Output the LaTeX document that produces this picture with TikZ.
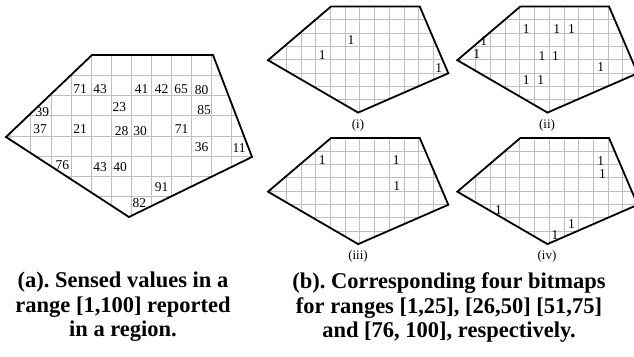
\documentclass[tikz,border=0pt]{standalone}
\usepackage{fontspec}
\setmainfont{Liberation Serif}
\tikzset{
  border/.style={line width=1.8pt, line join=miter},
  cell/.style={gray!50, line width=0.6pt},
  val/.style={font=\fontsize{13.5}{13.5}\selectfont, inner sep=0pt},
  bit/.style={font=\fontsize{13.5}{13.5}\selectfont, inner sep=0pt},
  tag/.style={font=\fontsize{13}{13}\selectfont, inner sep=0pt},
  caption/.style={font=\fontsize{22.5}{24.5}\selectfont\bfseries\frenchspacing, align=center, inner sep=0pt}
}
% outline of the region, in pixels of panel (a)
\newcommand{\regionpath}{(6,137) -- (92,55) -- (213,55) -- (252,157) -- (129,217) -- cycle}
\newcommand{\regiongrid}{%
  \begin{scope}
    \clip \regionpath;
    \foreach \i in {0,...,12}
      \draw[cell] ({10.6+20.1*\i},50) -- ({10.6+20.1*\i},222);
    \foreach \j in {0,...,8}
      \draw[cell] (0,{55+20.25*\j}) -- (260,{55+20.25*\j});
  \end{scope}
  \draw[border] \regionpath;}
\begin{document}
\begin{tikzpicture}[x=1pt, y=-1pt]
\useasboundingbox (0,0) rectangle (634,356);

% (a) sensed values
\regiongrid
\foreach \x/\y/\v [count=\k] in {80/89.3/71, 100/89.3/43, 141.7/89.3/41, 161.7/89.3/42,
    181/89.3/65, 201.7/90/80, 42.3/111.7/39, 119.3/106.7/23, 204/110/85,
    40/129/37, 80/129.3/21, 121.7/130.7/28, 140/130.7/30, 181.7/129/71,
    201.7/147.3/36, 239/148.3/11, 62.3/165/76, 100/167.3/43, 120/167.3/40,
    161.7/186.7/91, 139.3/203.3/82} {
  \node[val] (v\k) at (\x,\y) {\v};
}

% (i) range [1,25]
\begin{scope}[shift={(263.6,-29.54)}, xscale=0.733, yscale=0.655]
  \regiongrid
  \foreach \x/\y [count=\k] in {119.3/106.7, 80/129.3, 239/148.3} {
    \node[bit] (bi\k) at (\x,\y) {1};
  }
\end{scope}

% (ii) range [26,50]
\begin{scope}[shift={(452.9,-29.54)}, xscale=0.733, yscale=0.655]
  \regiongrid
  \foreach \x/\y [count=\k] in {100/89.3, 141.7/89.3, 161.7/89.3, 42/107.5,
      32.5/127, 121.7/130.7, 140/130.7, 201.7/147.3, 100/167.3, 120/167.3} {
    \node[bit] (bii\k) at (\x,\y) {1};
  }
\end{scope}

% (iii) range [51,75]
\begin{scope}[shift={(263.6,101.96)}, xscale=0.733, yscale=0.655]
  \regiongrid
  \foreach \x/\y [count=\k] in {80/89.3, 181/89.3, 181.7/129} {
    \node[bit] (biii\k) at (\x,\y) {1};
  }
\end{scope}

% (iv) range [76,100]
\begin{scope}[shift={(452.9,101.96)}, xscale=0.733, yscale=0.655]
  \regiongrid
  \foreach \x/\y [count=\k] in {201.7/90, 204/110, 62.3/165, 161.7/186.7, 139.3/203.3} {
    \node[bit] (biv\k) at (\x,\y) {1};
  }
\end{scope}

\node[tag] (ti) at (358,125) {(i)};
\node[tag] (tii) at (547,125) {(ii)};
\node[tag] (tiii) at (358,256.5) {(iii)};
\node[tag] (tiv) at (547,256.5) {(iv)};

% captions
\node[caption] (capa) at (123,307) {(a). Sensed values in a\\range [1,100] reported\\in a region.};
\node[caption] (capb) at (449,308) {(b). Corresponding four bitmaps\\for ranges [1,25], [26,50] [51,75]\\and [76, 100], respectively.};

\end{tikzpicture}
\end{document}
